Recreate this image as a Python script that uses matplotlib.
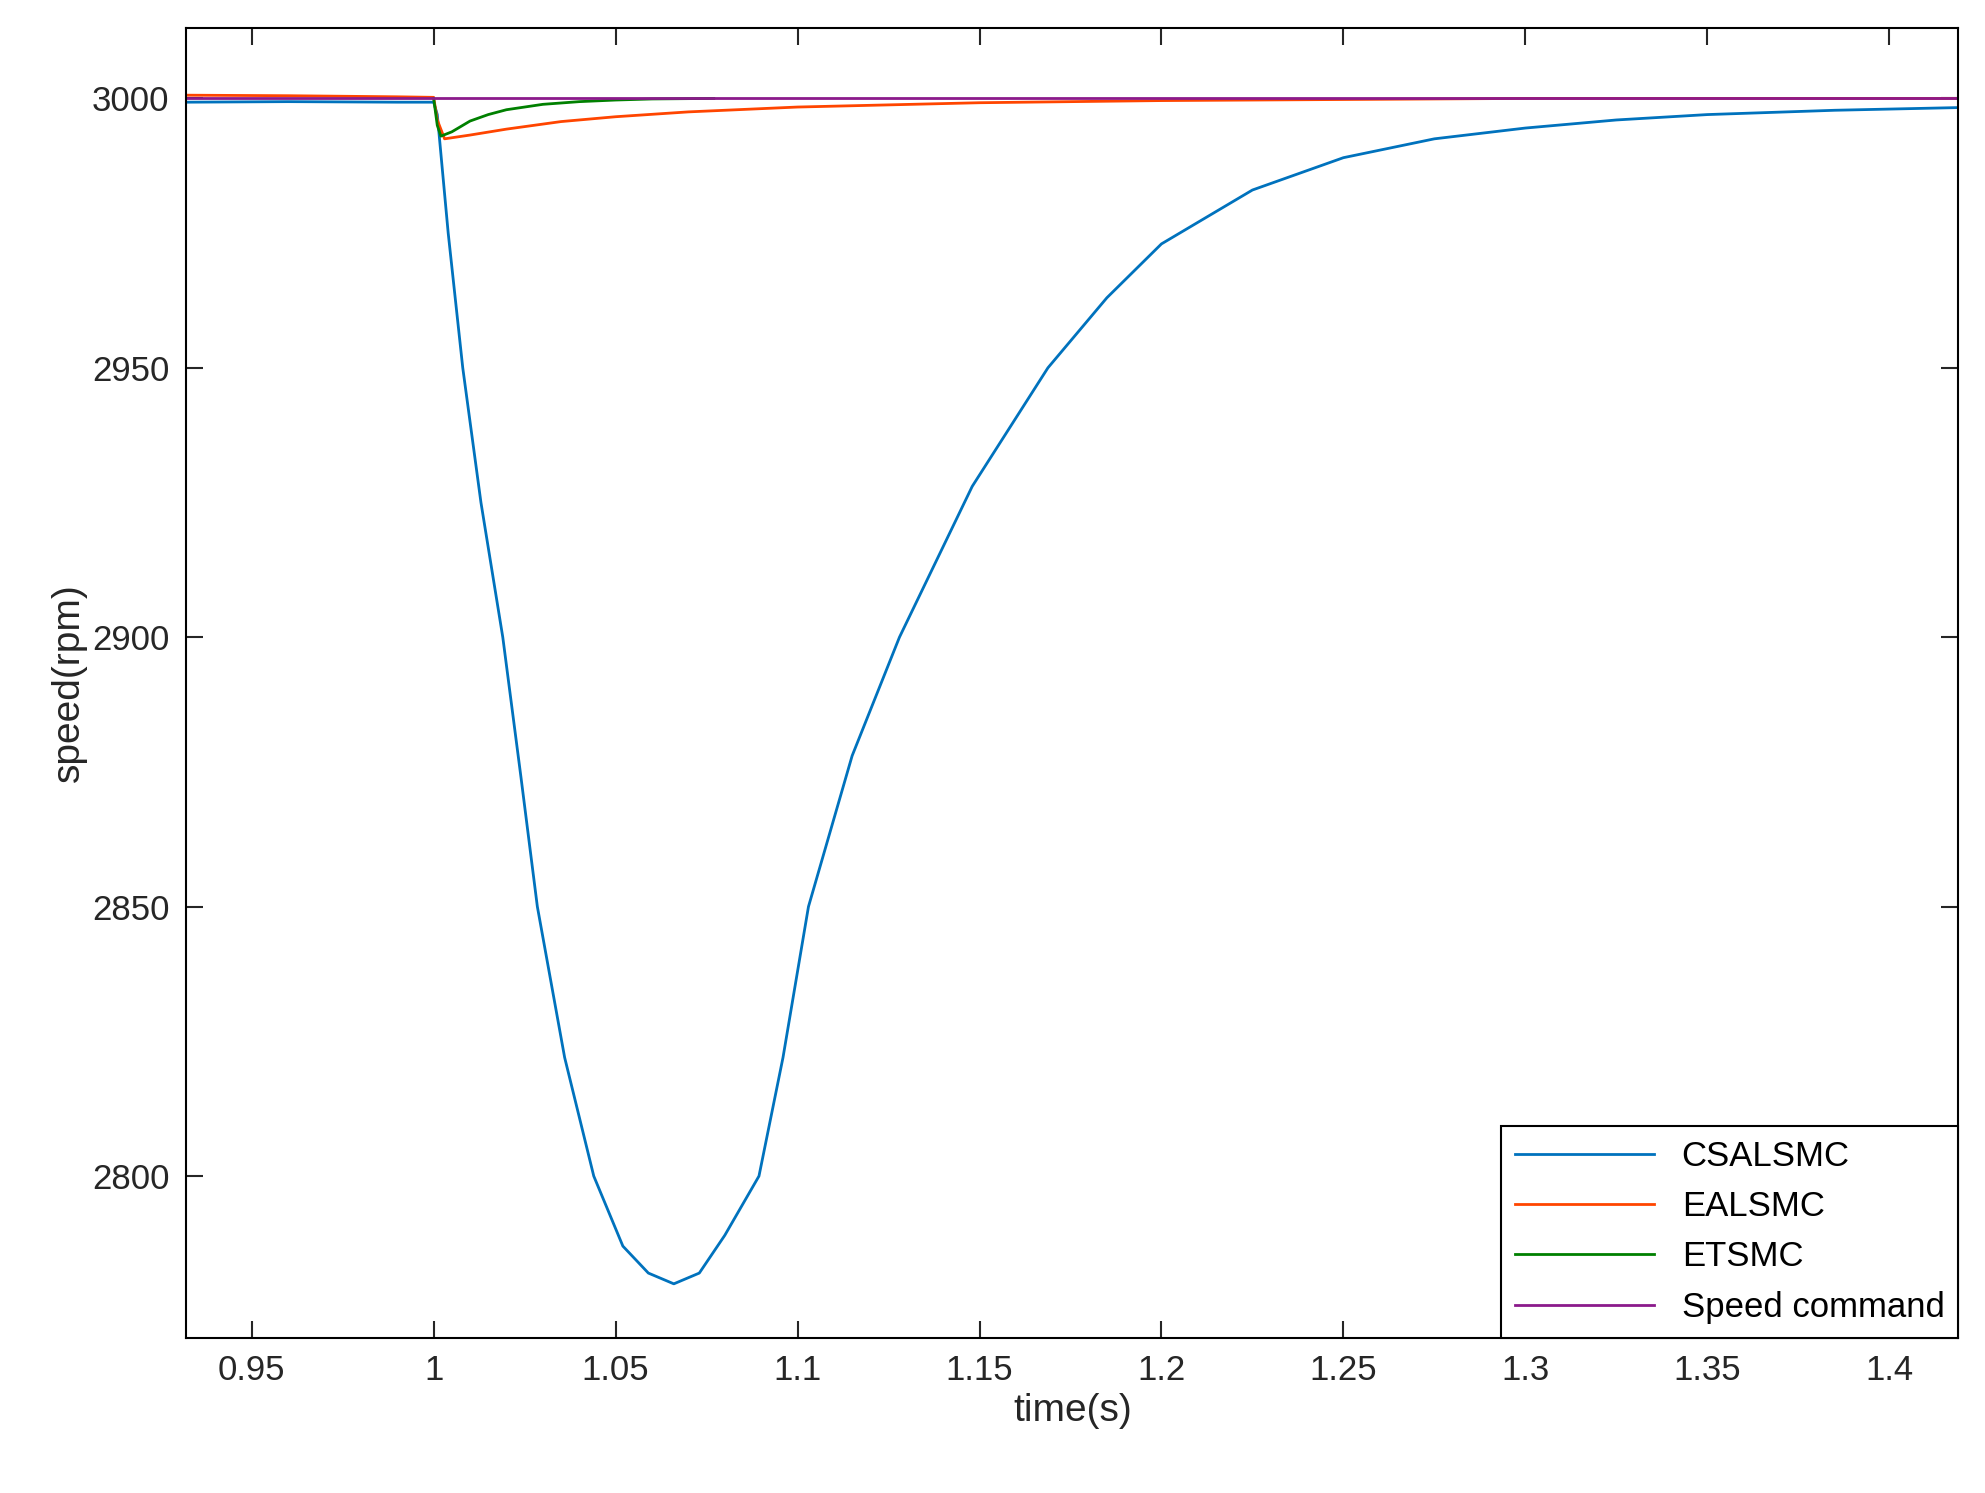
import matplotlib
matplotlib.use("Agg")
import matplotlib.pyplot as plt

plt.rcParams['font.family'] = ['Liberation Sans', 'DejaVu Sans']

cs_t = [0.932, 0.96, 0.99, 1.0, 1.001, 1.004, 1.008, 1.013, 1.019, 1.024, 1.0285, 1.036, 1.044, 1.052, 1.059, 1.066, 1.073, 1.080, 1.0894, 1.096, 1.103, 1.115, 1.128, 1.148, 1.1688, 1.185, 1.2, 1.225, 1.25, 1.275, 1.3, 1.325, 1.35, 1.385, 1.419]
cs_v = [2999.3, 2999.4, 2999.3, 2999.3, 2997, 2975, 2950, 2925, 2900, 2874, 2850, 2822, 2800, 2787, 2782, 2780, 2782, 2789, 2800, 2822, 2850, 2878, 2900, 2928, 2950, 2963, 2973, 2983, 2989, 2992.5, 2994.5, 2996, 2997, 2997.8, 2998.3]
ea_t = [0.932, 0.96, 0.99, 1.0, 1.001, 1.003, 1.01, 1.02, 1.035, 1.05, 1.07, 1.1, 1.15, 1.2, 1.25, 1.3, 1.35, 1.419]
ea_v = [3000.6, 3000.5, 3000.3, 3000.2, 2996, 2992.5, 2993.2, 2994.3, 2995.7, 2996.6, 2997.5, 2998.4, 2999.2, 2999.6, 2999.8, 3000, 3000, 3000]
et_t = [1.0, 1.001, 1.002, 1.005, 1.01, 1.015, 1.02, 1.03, 1.04, 1.05, 1.06, 1.077]
et_v = [3000, 2995, 2993, 2993.8, 2995.8, 2997, 2997.9, 2998.9, 2999.4, 2999.7, 2999.9, 3000]
cmd_t = [0.932, 1.419]
cmd_v = [3000, 3000]

fig = plt.figure(figsize=(19.85, 14.93), dpi=100)
ax = fig.add_axes([0.0938, 0.104, 0.8928, 0.877])
ax.plot(cs_t, cs_v, color='#0072BD', lw=2, label='CSALSMC')
ax.plot(ea_t, ea_v, color='#FF4500', lw=2, label='EALSMC')
ax.plot(et_t, et_v, color='#008000', lw=2, label='ETSMC')
ax.plot(cmd_t, cmd_v, color='#8B1A8B', lw=2, label='Speed command')
ax.set_xlim(0.932, 1.419)
ax.set_ylim(2770, 3013)
ax.set_xticks([0.95, 1, 1.05, 1.1, 1.15, 1.2, 1.25, 1.3, 1.35, 1.4])
ax.set_xticklabels(['0.95', '1', '1.05', '1.1', '1.15', '1.2', '1.25', '1.3', '1.35', '1.4'])
ax.set_yticks([2800, 2850, 2900, 2950, 3000])
ax.tick_params(direction='in', length=12, width=1.5, labelsize=25, top=True, right=True, colors='#262626', pad=12)
for s in ax.spines.values():
    s.set_linewidth(1.5)
ax.set_xlabel('time(s)', fontsize=28, color='#262626')
ax.set_ylabel('speed(rpm)', fontsize=28, color='#262626')
leg = ax.legend(loc='lower right', fontsize=25, fancybox=False, framealpha=1, edgecolor='black', borderaxespad=0, handlelength=4)
leg.get_frame().set_linewidth(1.5)
fig.savefig('out.png', dpi=100)
